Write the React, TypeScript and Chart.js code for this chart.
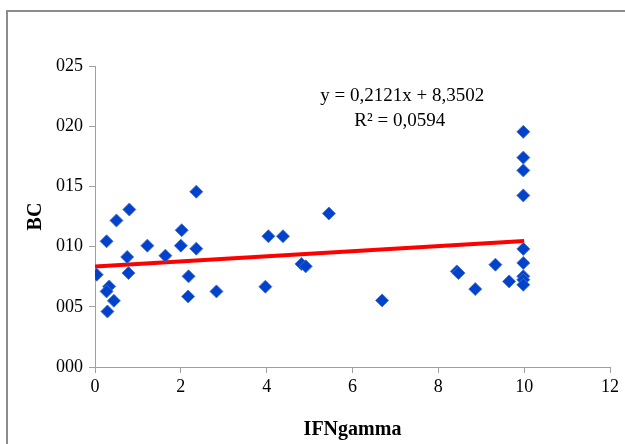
import React, { useEffect, useRef } from "react";
import { Chart, registerables } from "chart.js";

Chart.register(...registerables);

const xValues = [
  0.04, 0.27, 0.5, 0.8, 0.33, 0.27, 0.44, 0.29, 0.75, 0.78, 1.22, 1.64, 2.02, 2.0, 2.36, 2.36, 2.18, 2.17, 2.83,
  4.04, 4.38, 3.97, 4.81, 4.91, 5.45, 6.69,
  9.98, 9.98, 9.98, 9.98, 9.98, 9.98, 9.98, 9.98, 9.98, 8.43, 8.47, 8.86, 9.33, 9.65,
];
const yValues = [
  7.67, 10.44, 12.17, 13.08, 6.69, 6.28, 5.5, 4.61, 9.14, 7.8, 10.08, 9.25, 11.36, 10.08, 14.56, 9.83, 7.53, 5.86, 6.28,
  10.86, 10.86, 6.67, 8.56, 8.36, 12.75, 5.53,
  19.53, 17.39, 16.33, 14.25, 9.81, 8.64, 7.53, 7.25, 6.83, 7.94, 7.8, 6.47, 8.5, 7.11,
];
const trendX = [0, 10];
const trendY = [8.3502, 10.4712];
const yTickLabels = ["000", "005", "010", "015", "020", "025"];
const annotationLines = ["y = 0,2121x + 8,3502", "R² = 0,0594"];
const annotationX = [7.16, 7.1];
const annotationY = [22.5, 20.4];

const serif = "'Liberation Serif', 'Times New Roman', serif";

export default function App() {
  const ref = useRef<HTMLCanvasElement | null>(null);
  useEffect(() => {
    if (!ref.current) return;
    const annotationPlugin = {
      id: "eqText",
      afterDatasetsDraw(chart: any) {
        const { ctx, scales } = chart;
        ctx.save();
        ctx.fillStyle = "#000";
        ctx.font = `19px ${serif}`;
        ctx.textAlign = "center";
        ctx.textBaseline = "middle";
        annotationLines.forEach((t, i) => {
          ctx.fillText(t, scales.x.getPixelForValue(annotationX[i]), scales.y.getPixelForValue(annotationY[i]));
        });
        ctx.restore();
      },
    };
    const chart = new Chart(ref.current, {
      type: "scatter",
      data: {
        datasets: [
          {
            type: "line",
            data: trendX.map((x, i) => ({ x, y: trendY[i] })),
            borderColor: "#FF0000",
            borderWidth: 4,
            pointRadius: 0,
            fill: false,
            order: 2,
          } as any,
          {
            data: xValues.map((x, i) => ({ x, y: yValues[i] })),
            pointStyle: "rectRot",
            pointRadius: 6.5,
            backgroundColor: "rgb(0,66,204)",
            borderColor: "rgba(70,110,200,0.85)",
            borderWidth: 1,
            order: 1,
          },
        ],
      },
      options: {
        animation: false,
        responsive: false,
        layout: { padding: { left: 0, right: 15, top: 66, bottom: 0 } },
        plugins: { legend: { display: false }, tooltip: { enabled: false } },
        scales: {
          x: {
            type: "linear",
            min: 0,
            max: 12,
            ticks: { stepSize: 2, color: "#000", font: { family: serif, size: 18 }, padding: 3 },
            grid: { display: true, drawOnChartArea: false, drawTicks: true, tickLength: 6, color: "#a0a0a0" },
            border: { display: true, color: "#a0a0a0" },
            title: {
              display: true,
              text: "IFNgamma",
              color: "#000",
              font: { family: serif, size: 20, weight: "bold" },
              padding: { top: 0, bottom: 2 },
            },
            afterFit: (s: any) => {
              s.height = 77;
            },
          },
          y: {
            type: "linear",
            min: 0,
            max: 25,
            ticks: {
              stepSize: 5,
              color: "#000",
              font: { family: serif, size: 18 },
              padding: 6,
              callback: (_v: any, i: number) => yTickLabels[i],
            },
            grid: { display: true, drawOnChartArea: false, drawTicks: true, tickLength: 6, color: "#a0a0a0" },
            border: { display: true, color: "#a0a0a0" },
            title: {
              display: true,
              text: "BC",
              color: "#000",
              font: { family: serif, size: 20, weight: "bold" },
              padding: { top: 24, bottom: 0 },
            },
            afterFit: (s: any) => {
              s.width = 95;
            },
          },
        },
      },
      plugins: [annotationPlugin],
    });
    return () => chart.destroy();
  }, []);
  return (
    <div style={{ position: "absolute", left: 0, top: 0, width: 625, height: 444, background: "#fff", overflow: "hidden" }}>
      <div
        style={{
          position: "absolute",
          left: 6,
          top: 10,
          width: 800,
          height: 600,
          borderTop: "2px solid #8c8c8c",
          borderLeft: "2px solid #8c8c8c",
        }}
      />
      <canvas ref={ref} width={625} height={444} style={{ position: "absolute", left: 0, top: 0 }} />
    </div>
  );
}
